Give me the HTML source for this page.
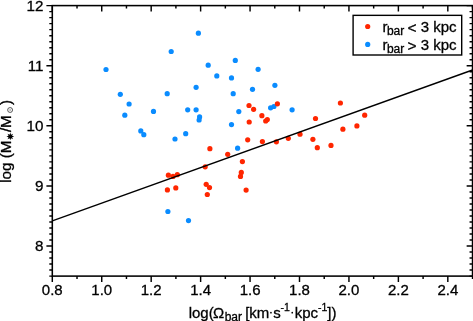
<!DOCTYPE html>
<html><head><meta charset="utf-8"><title>plot</title>
<style>html,body{margin:0;padding:0;background:#fff;overflow:hidden}svg{display:block;will-change:transform}text{font-family:"Liberation Sans",sans-serif;fill:#000;stroke:#000;stroke-width:0.3px}</style></head>
<body>
<svg width="473" height="321" viewBox="0 0 473 321">
<rect x="0" y="0" width="473" height="321" fill="#fff"/>
<g fill="#0a8cff">
<circle cx="106.0" cy="69.5" r="2.60"/>
<circle cx="198.4" cy="33.2" r="2.60"/>
<circle cx="171.2" cy="51.5" r="2.60"/>
<circle cx="208.2" cy="65.2" r="2.60"/>
<circle cx="120.3" cy="94.3" r="2.60"/>
<circle cx="167.2" cy="93.7" r="2.60"/>
<circle cx="196.1" cy="87.3" r="2.60"/>
<circle cx="129.1" cy="104.0" r="2.60"/>
<circle cx="124.8" cy="115.2" r="2.60"/>
<circle cx="153.5" cy="111.4" r="2.60"/>
<circle cx="187.7" cy="109.8" r="2.60"/>
<circle cx="196.1" cy="109.8" r="2.60"/>
<circle cx="199.6" cy="116.9" r="2.60"/>
<circle cx="199.1" cy="120.0" r="2.60"/>
<circle cx="140.8" cy="130.9" r="2.60"/>
<circle cx="143.8" cy="134.7" r="2.60"/>
<circle cx="185.7" cy="133.7" r="2.60"/>
<circle cx="175.0" cy="139.0" r="2.60"/>
<circle cx="235.3" cy="60.4" r="2.60"/>
<circle cx="258.1" cy="69.3" r="2.60"/>
<circle cx="216.8" cy="75.9" r="2.60"/>
<circle cx="231.5" cy="77.9" r="2.60"/>
<circle cx="274.9" cy="85.3" r="2.60"/>
<circle cx="252.5" cy="89.3" r="2.60"/>
<circle cx="233.2" cy="93.7" r="2.60"/>
<circle cx="238.8" cy="111.6" r="2.60"/>
<circle cx="231.5" cy="124.6" r="2.60"/>
<circle cx="237.6" cy="148.2" r="2.60"/>
<circle cx="270.6" cy="107.8" r="2.60"/>
<circle cx="273.9" cy="106.5" r="2.60"/>
<circle cx="292.1" cy="109.8" r="2.60"/>
<circle cx="167.9" cy="211.5" r="2.60"/>
<circle cx="188.5" cy="220.6" r="2.60"/>
</g>
<g fill="#ff2600">
<circle cx="249.0" cy="105.5" r="2.60"/>
<circle cx="253.6" cy="109.3" r="2.60"/>
<circle cx="277.4" cy="103.8" r="2.60"/>
<circle cx="261.9" cy="115.7" r="2.60"/>
<circle cx="267.3" cy="119.5" r="2.60"/>
<circle cx="265.7" cy="121.0" r="2.60"/>
<circle cx="249.2" cy="122.0" r="2.60"/>
<circle cx="315.5" cy="118.5" r="2.60"/>
<circle cx="247.7" cy="139.8" r="2.60"/>
<circle cx="262.4" cy="141.6" r="2.60"/>
<circle cx="276.4" cy="141.8" r="2.60"/>
<circle cx="288.3" cy="138.3" r="2.60"/>
<circle cx="300.0" cy="134.2" r="2.60"/>
<circle cx="312.9" cy="139.3" r="2.60"/>
<circle cx="317.3" cy="147.7" r="2.60"/>
<circle cx="209.9" cy="148.7" r="2.60"/>
<circle cx="227.7" cy="154.3" r="2.60"/>
<circle cx="242.4" cy="161.6" r="2.60"/>
<circle cx="205.2" cy="166.8" r="2.60"/>
<circle cx="241.3" cy="172.4" r="2.60"/>
<circle cx="240.5" cy="176.4" r="2.60"/>
<circle cx="246.1" cy="190.1" r="2.60"/>
<circle cx="168.4" cy="175.2" r="2.60"/>
<circle cx="173.0" cy="176.4" r="2.60"/>
<circle cx="177.3" cy="174.7" r="2.60"/>
<circle cx="167.4" cy="189.9" r="2.60"/>
<circle cx="175.8" cy="187.9" r="2.60"/>
<circle cx="206.2" cy="184.3" r="2.60"/>
<circle cx="209.5" cy="187.6" r="2.60"/>
<circle cx="207.3" cy="194.5" r="2.60"/>
<circle cx="340.4" cy="103.0" r="2.60"/>
<circle cx="364.7" cy="115.2" r="2.60"/>
<circle cx="356.9" cy="125.9" r="2.60"/>
<circle cx="342.9" cy="129.2" r="2.60"/>
<circle cx="331.0" cy="145.4" r="2.60"/>
</g>
<line x1="52.30" y1="220.80" x2="472.54" y2="70.00" stroke="#000" stroke-width="1.35"/>
<rect x="52.30" y="5.60" width="420.24" height="270.50" fill="none" stroke="#000" stroke-width="1.55"/>
<path d="M52.30 276.10v5.90M52.30 5.60v5.90M77.02 276.10v3.00M77.02 5.60v3.00M101.74 276.10v5.90M101.74 5.60v5.90M126.46 276.10v3.00M126.46 5.60v3.00M151.18 276.10v5.90M151.18 5.60v5.90M175.90 276.10v3.00M175.90 5.60v3.00M200.62 276.10v5.90M200.62 5.60v5.90M225.34 276.10v3.00M225.34 5.60v3.00M250.06 276.10v5.90M250.06 5.60v5.90M274.78 276.10v3.00M274.78 5.60v3.00M299.50 276.10v5.90M299.50 5.60v5.90M324.22 276.10v3.00M324.22 5.60v3.00M348.94 276.10v5.90M348.94 5.60v5.90M373.66 276.10v3.00M373.66 5.60v3.00M398.38 276.10v5.90M398.38 5.60v5.90M423.10 276.10v3.00M423.10 5.60v3.00M447.82 276.10v5.90M447.82 5.60v5.90M472.54 276.10v3.00M472.54 5.60v3.00M52.30 276.10h-3.00M472.54 276.10h-3.00M52.30 270.08h-3.00M472.54 270.08h-3.00M52.30 264.07h-3.00M472.54 264.07h-3.00M52.30 258.06h-3.00M472.54 258.06h-3.00M52.30 252.05h-3.00M472.54 252.05h-3.00M52.30 246.04h-5.90M472.54 246.04h-5.90M52.30 240.03h-3.00M472.54 240.03h-3.00M52.30 234.02h-3.00M472.54 234.02h-3.00M52.30 228.01h-3.00M472.54 228.01h-3.00M52.30 222.00h-3.00M472.54 222.00h-3.00M52.30 215.98h-3.00M472.54 215.98h-3.00M52.30 209.97h-3.00M472.54 209.97h-3.00M52.30 203.96h-3.00M472.54 203.96h-3.00M52.30 197.95h-3.00M472.54 197.95h-3.00M52.30 191.94h-3.00M472.54 191.94h-3.00M52.30 185.93h-5.90M472.54 185.93h-5.90M52.30 179.92h-3.00M472.54 179.92h-3.00M52.30 173.91h-3.00M472.54 173.91h-3.00M52.30 167.90h-3.00M472.54 167.90h-3.00M52.30 161.89h-3.00M472.54 161.89h-3.00M52.30 155.88h-3.00M472.54 155.88h-3.00M52.30 149.86h-3.00M472.54 149.86h-3.00M52.30 143.85h-3.00M472.54 143.85h-3.00M52.30 137.84h-3.00M472.54 137.84h-3.00M52.30 131.83h-3.00M472.54 131.83h-3.00M52.30 125.82h-5.90M472.54 125.82h-5.90M52.30 119.81h-3.00M472.54 119.81h-3.00M52.30 113.80h-3.00M472.54 113.80h-3.00M52.30 107.79h-3.00M472.54 107.79h-3.00M52.30 101.78h-3.00M472.54 101.78h-3.00M52.30 95.76h-3.00M472.54 95.76h-3.00M52.30 89.75h-3.00M472.54 89.75h-3.00M52.30 83.74h-3.00M472.54 83.74h-3.00M52.30 77.73h-3.00M472.54 77.73h-3.00M52.30 71.72h-3.00M472.54 71.72h-3.00M52.30 65.71h-5.90M472.54 65.71h-5.90M52.30 59.70h-3.00M472.54 59.70h-3.00M52.30 53.69h-3.00M472.54 53.69h-3.00M52.30 47.68h-3.00M472.54 47.68h-3.00M52.30 41.67h-3.00M472.54 41.67h-3.00M52.30 35.66h-3.00M472.54 35.66h-3.00M52.30 29.64h-3.00M472.54 29.64h-3.00M52.30 23.63h-3.00M472.54 23.63h-3.00M52.30 17.62h-3.00M472.54 17.62h-3.00M52.30 11.61h-3.00M472.54 11.61h-3.00M52.30 5.60h-5.90M472.54 5.60h-5.90" stroke="#000" stroke-width="1.45" fill="none"/>
<g font-size="15" text-anchor="middle">
<text x="52.30" y="295.4">0.8</text>
<text x="101.74" y="295.4">1.0</text>
<text x="151.18" y="295.4">1.2</text>
<text x="200.62" y="295.4">1.4</text>
<text x="250.06" y="295.4">1.6</text>
<text x="299.50" y="295.4">1.8</text>
<text x="348.94" y="295.4">2.0</text>
<text x="398.38" y="295.4">2.2</text>
<text x="447.82" y="295.4">2.4</text>
</g>
<g font-size="15.2" text-anchor="end">
<text x="43.5" y="250.94">8</text>
<text x="43.5" y="190.83">9</text>
<text x="43.5" y="130.72">10</text>
<text x="43.5" y="70.61">11</text>
<text x="43.5" y="10.50">12</text>
</g>
<rect x="353.1" y="15.35" width="108.6" height="39.65" fill="#fff" stroke="#000" stroke-width="1.4"/>
<circle cx="367.7" cy="26.5" r="2.60" fill="#ff2600"/>
<circle cx="367.7" cy="44.4" r="2.60" fill="#0a8cff"/>
<g font-size="15.0"><text x="382.6" y="31.90">r</text><text x="386.95" y="34.75" font-size="12">bar</text><text x="407.5" y="32.80" font-size="15.5">&lt;</text><text x="420.65" y="31.90">3 kpc</text></g>
<g font-size="15.0"><text x="382.6" y="49.90">r</text><text x="386.95" y="52.75" font-size="12">bar</text><text x="407.5" y="50.80" font-size="15.5">&gt;</text><text x="420.65" y="49.90">3 kpc</text></g>
<text x="188.70" y="317.80" font-size="15.0">log(</text>
<text x="212.90" y="317.80" font-size="15.0">&#937;</text>
<text x="224.65" y="320.65" font-size="12">bar</text>
<text x="245.20" y="317.80" font-size="15.0">[km</text>
<text x="273.15" y="317.80" font-size="15.0">s</text>
<text x="280.60" y="311.00" font-size="10.5">-1</text>
<text x="294.70" y="317.80" font-size="15.0">kpc</text>
<text x="318.10" y="311.00" font-size="10.5">-1</text>
<text x="327.30" y="317.80" font-size="15.0">])</text>
<circle cx="270.95" cy="312.7" r="0.85"/><circle cx="292.25" cy="312.7" r="0.85"/>
<text transform="translate(11.00 182.80) rotate(-90)" font-size="15.2">log (M</text>
<polygon points="14.20,136.40 12.06,137.13 13.06,139.16 11.03,138.16 10.30,140.30 9.57,138.16 7.54,139.16 8.54,137.13 6.40,136.40 8.54,135.67 7.54,133.64 9.57,134.64 10.30,132.50 11.03,134.64 13.06,133.64 12.06,135.67" fill="#000"/>
<text transform="translate(11.00 132.10) rotate(-90)" font-size="15.2">/M</text>
<circle cx="10.1" cy="110.0" r="2.45" fill="none" stroke="#222" stroke-width="0.75"/><circle cx="10.1" cy="110.0" r="0.7" fill="#777"/>
<text transform="translate(11.00 104.90) rotate(-90)" font-size="15.2">)</text>
</svg></body></html>
